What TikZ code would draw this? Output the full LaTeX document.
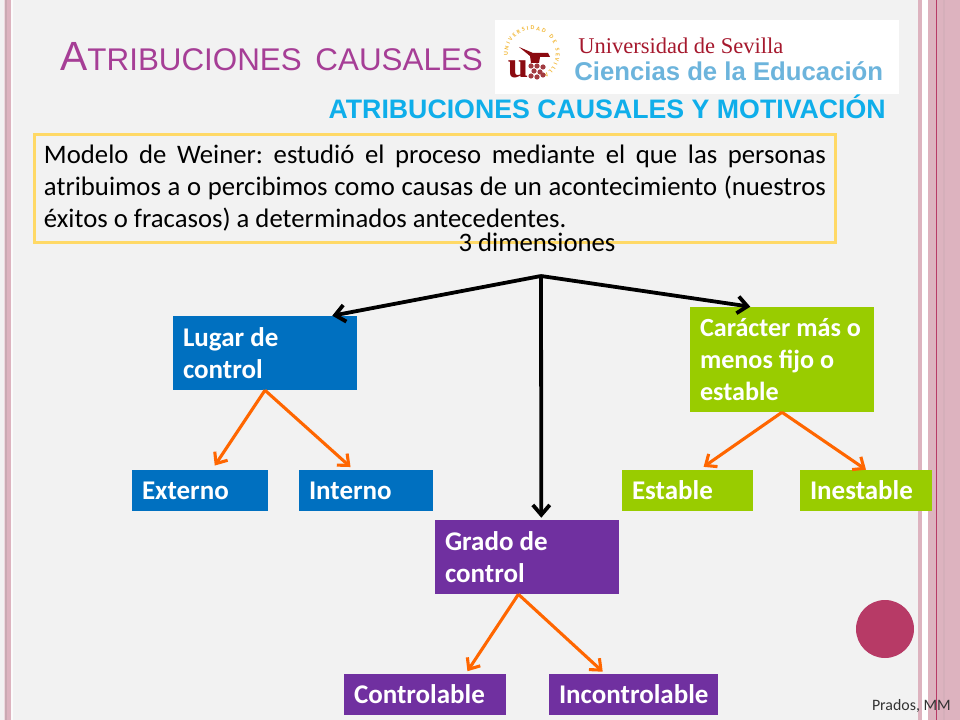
\documentclass[tikz,border=0pt]{standalone}
\usepackage{fontspec}
\setmainfont{Carlito}
\newfontfamily\headfont{Liberation Sans}
\newfontfamily\serifhead{Liberation Serif}
\usetikzlibrary{arrows.meta,decorations.text}
\definecolor{paper}{HTML}{F2F2F2}
\definecolor{stripe}{HTML}{DDB3BF}
\definecolor{stripedark}{HTML}{B73A66}
\definecolor{titlepurple}{HTML}{A63E96}
\definecolor{subblue}{HTML}{0FAEEA}
\definecolor{noteyellow}{HTML}{FFD966}
\definecolor{lugarblue}{HTML}{0070C0}
\definecolor{caractergreen}{HTML}{99CC00}
\definecolor{gradopurple}{HTML}{7030A0}
\definecolor{branchorange}{HTML}{FF6600}
\definecolor{usred}{HTML}{A6192E}
\definecolor{usblue}{HTML}{6CB4DC}
\definecolor{usdark}{HTML}{8B0A10}
\definecolor{usgold}{HTML}{F2B632}
\newlength\pxunit
\setlength\pxunit{0.025cm}
\frenchspacing
\tikzset{
	block/.style={fill=#1,text=white,inner xsep=10\pxunit,inner ysep=0pt,align=flush left,
		font=\fontsize{19.2}{22.7}\selectfont\bfseries},
	trunk/.style={-{Straight Barb[length=7pt,width=12pt]},line width=2.7pt,black},
	branch/.style={-{Straight Barb[length=6.5pt,width=11pt]},line width=2.2pt,branchorange}
}

\begin{document}
\begin{tikzpicture}[x=0.025cm,y=-0.025cm]
	\useasboundingbox (0,0) rectangle (960,720);
	\fill[paper] (0,0) rectangle (960,720);
	% side stripes
	\fill[stripe!50] (4,0) rectangle (5,720);
	\fill[stripe!80!gray] (5,0) rectangle (7,720);
	\fill[stripe] (7,0) rectangle (11,720);
	\fill[white!70!paper] (11,0) rectangle (13,720);
	\fill[stripe] (918,0) rectangle (922,720);
	\fill[white] (922,0) rectangle (928,720);
	\fill[stripe] (928,0) rectangle (960,720);
	\fill[stripe!92!gray] (943,0) rectangle (945,720);
	\fill[stripedark] (936,0) rectangle (937,720);
	\fill[stripedark] (885,629) circle (29);
	% heading
	\node[anchor=base west,inner sep=0pt,text=titlepurple,font=\headfont] (title) at (60,71)
		{{\fontsize{29}{29}\selectfont A}{\fontsize{22.3}{22}\selectfont TRIBUCIONES\hspace{0.16em} CAUSALES}};
	\node[anchor=base east,inner sep=0pt,text=subblue,font=\headfont\bfseries\fontsize{19}{19}\selectfont] (subtitle) at (886,119)
		{ATRIBUCIONES CAUSALES Y MOTIVACIÓN};
	% logo
	\fill[white] (495,20) rectangle (899,94);
	\path[decorate,decoration={text along path,text align={fit to path},
		text={|\fontsize{4.2}{5}\selectfont\bfseries\color{usgold}|UNIVERSIDAD DE SEVILLA}}]
		(508,56) arc[start angle=175,end angle=420,radius=24];
	\node[inner sep=0pt,text=usdark,font=\serifhead\bfseries\fontsize{26}{26}\selectfont] (logou) at (518,69) {u};
	\fill[usdark] (519,47) -- (533,53) -- (548,53) -- (550,57) -- (540,57) -- (539,63) -- (531,63) -- (530,56) -- cycle;
	\foreach \fx/\fy in {531/66,537/66,543/67,534/71,540/72,531/76,537/77,543/75}
		\fill[usdark!80!white] (\fx,\fy) circle (2.6);
	\node[anchor=base west,inner sep=0pt,text=usred,font=\serifhead\fontsize{16}{17}\selectfont] (logotop) at (578,54) {Universidad de Sevilla};
	\node[anchor=base west,inner sep=0pt,text=usblue,font=\headfont\bfseries\fontsize{18.3}{18}\selectfont] (logobottom) at (574,81) {Ciencias de la Educación};
	% note
	\node[draw=noteyellow,line width=2.1pt,minimum height=108\pxunit,inner xsep=9.5\pxunit,inner ysep=0pt,
		text width=782\pxunit,align=justify,font=\fontsize{19}{22.7}\selectfont] (note) at (435,188.5)
		{Modelo de Weiner: estudió el proceso mediante el que las personas\linebreak
		atribuimos a o percibimos como causas de un acontecimiento (nuestros\linebreak
		éxitos o fracasos) a determinados antecedentes.};
	\node[inner sep=0pt,anchor=base,font=\fontsize{19}{22.7}\selectfont] (dims) at (537,252) {3 dimensiones};
	\coordinate (hub) at (541,276);
	% boxes
	\node[block=lugarblue,text width=164\pxunit,minimum height=74\pxunit] (lugar) at (265,353) {Lugar de\\control};
	\node[block=lugarblue,text width=116\pxunit,minimum height=41\pxunit] (externo) at (200,490.5) {Externo};
	\node[block=lugarblue,text width=114\pxunit,minimum height=41\pxunit] (interno) at (366,490.5) {Interno};
	\node[block=caractergreen,text width=164\pxunit,minimum height=105\pxunit,font=\fontsize{18.6}{22.7}\selectfont\bfseries] (caracter) at (782,359.5) {Carácter más o\\menos fijo o\\estable};
	\node[block=caractergreen,text width=111\pxunit,minimum height=41\pxunit] (estable) at (687.5,490.5) {Estable};
	\node[block=caractergreen,text width=112\pxunit,minimum height=41\pxunit] (inestable) at (866,490.5) {Inestable};
	\node[block=gradopurple,text width=164\pxunit,minimum height=74\pxunit] (grado) at (527,557) {Grado de\\control};
	\node[block=gradopurple,text width=142\pxunit,minimum height=41\pxunit] (controlable) at (425,694.5) {Controlable};
	\node[block=gradopurple,text width=149\pxunit,minimum height=41\pxunit] (incontrolable) at (633.5,694.5) {Incontrolable};
	\node[anchor=base east,inner sep=0pt,text=black!80,font=\fontsize{11.3}{13}\selectfont] (firma) at (951,710) {Prados, MM};
	% arrows
	\draw[trunk] (hub) to (lugar.29.6);
	\draw[trunk] (hub) to (caracter.121.4);
	\draw[trunk,shorten >=2\pxunit] (hub) to (grado.69.3);
	\draw[branch,shorten >=5\pxunit] (lugar.south) to (externo.60.5);
	\draw[branch,shorten >=4\pxunit] (lugar.south) to (interno.121.6);
	\draw[branch,shorten >=5\pxunit] (caracter.south) to (estable.60.6);
	\draw[branch] (caracter.south) to (inestable.north);
	\draw[branch,shorten >=3\pxunit] (grado.257) to (controlable.27.7);
	\draw[branch,shorten >=3\pxunit] (grado.257) to (incontrolable.144.3);
\end{tikzpicture}
\end{document}
